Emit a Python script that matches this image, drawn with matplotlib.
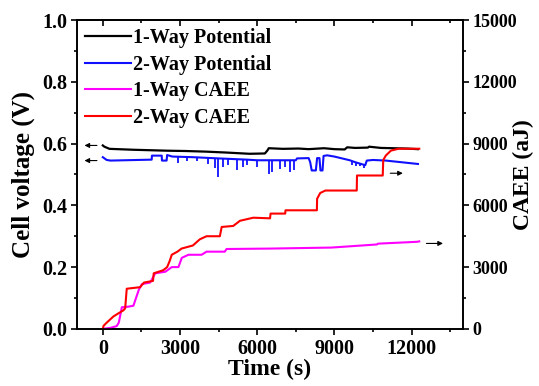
import numpy as np
import matplotlib.pyplot as plt
from matplotlib.ticker import MultipleLocator

plt.rcParams['font.family'] = ['Liberation Serif', 'DejaVu Serif']
plt.rcParams['font.weight'] = 'bold'

# 1-Way potential (V)
t_p1 = [0, 60, 260, 1200, 2500, 3200, 4000, 4800, 5700, 6300, 6400, 6450, 7000, 7600, 8000,
        8600, 9000, 9400, 9500, 9800, 10300, 10350, 10800, 11300, 11800, 12250]
v_p1 = [0.594, 0.590, 0.583, 0.580, 0.577, 0.576, 0.574, 0.571, 0.567, 0.568, 0.578, 0.585, 0.583,
        0.584, 0.582, 0.585, 0.582, 0.581, 0.588, 0.586, 0.587, 0.590, 0.586, 0.585, 0.584, 0.582]

# 2-Way potential (V)
t_p2 = [0, 150, 300, 1900, 1910, 2290, 2300, 2480, 2500, 2700, 3500, 4500, 5600, 6000, 7500,
        7550, 8000, 8060, 8120, 8280, 8330, 8420, 8460, 8540, 8580, 8720, 9000, 9600, 9800,
        10000, 10200, 10260, 10500, 11000, 12250]
v_p2 = [0.556, 0.547, 0.545, 0.548, 0.561, 0.561, 0.545, 0.545, 0.563, 0.558, 0.556, 0.552,
        0.548, 0.546, 0.546, 0.552, 0.553, 0.540, 0.513, 0.513, 0.553, 0.553, 0.513, 0.513,
        0.560, 0.562, 0.558, 0.546, 0.540, 0.535, 0.530, 0.545, 0.547, 0.545, 0.534]

# downward spikes on the 2-Way potential
spike_t = [2935, 3260, 3650, 4104, 4364, 4494, 4688, 4883, 5208, 5468, 5597,
           5987, 6441, 6571, 6896, 7091, 7286, 7416, 9700, 9850, 10000, 10150]
spike_lo = [0.538, 0.545, 0.545, 0.535, 0.520, 0.491, 0.525, 0.530, 0.513, 0.525, 0.530,
            0.524, 0.502, 0.508, 0.518, 0.524, 0.508, 0.513, 0.532, 0.528, 0.526, 0.522]
spike_hi = [0.556, 0.556, 0.556, 0.553, 0.552, 0.552, 0.551, 0.551, 0.549, 0.548, 0.548,
            0.546, 0.546, 0.546, 0.546, 0.546, 0.546, 0.546, 0.545, 0.542, 0.536, 0.532]

# 1-Way CAEE (aJ)
t_c1 = [0, 300, 540, 620, 670, 740, 1000, 1190, 1250, 1400, 1520, 1840, 2040, 2430, 2680,
        2940, 3070, 3330, 3840, 4030, 4740, 4810, 6500, 8900, 10650, 10700, 12220, 12300]
c_c1 = [0, 50, 135, 300, 600, 1050, 1080, 1125, 1350, 1900, 2175, 2250, 2700, 2775, 3000,
        3000, 3450, 3600, 3600, 3750, 3750, 3880, 3900, 3950, 4100, 4140, 4230, 4250]

# 2-Way CAEE (aJ)
t_c2 = [0, 30, 150, 410, 600, 800, 870, 930, 1450, 1600, 1950, 1980, 2350, 2500, 2600, 2680,
        2900, 3060, 3500, 3770, 4030, 4550, 4620, 5070, 5330, 5850, 6500, 6520, 7090, 7100,
        8320, 8330, 8450, 8650, 9870, 9880, 10880, 10900, 11000, 11200, 11500, 12300]
c_c2 = [0, 150, 300, 600, 750, 900, 1000, 1950, 2025, 2250, 2330, 2700, 2850, 3000, 3300,
        3600, 3750, 3900, 4050, 4350, 4500, 4500, 4950, 5000, 5250, 5400, 5370, 5600, 5600,
        5760, 5760, 6320, 6600, 6720, 6720, 7450, 7450, 8200, 8420, 8660, 8750, 8750]

fig = plt.figure(figsize=(5.39, 3.86), dpi=100)
ax = fig.add_axes([0.143, 0.148, 0.716, 0.800])
ax2 = ax.twinx()

l1, = ax.plot(t_p1, v_p1, color='black', lw=1.6, label='1-Way Potential')
l2, = ax.plot(t_p2, v_p2, color='#1010ff', lw=1.5, label='2-Way Potential')
ax.vlines(spike_t, spike_lo, spike_hi, color='#1010ff', lw=1.3)
l3, = ax2.plot(t_c1, c_c1, color='#ff00ff', lw=1.5, label='1-Way CAEE')
l4, = ax2.plot(t_c2, c_c2, color='#ff0000', lw=1.5, label='2-Way CAEE')

ax.set_xlim(-1000, 14000)
ax.set_ylim(0, 1.0)
ax2.set_ylim(0, 15000)
ax.set_xticks([0, 3000, 6000, 9000, 12000])
ax.xaxis.set_minor_locator(MultipleLocator(1500))
ax.yaxis.set_major_locator(MultipleLocator(0.2))
ax.yaxis.set_minor_locator(MultipleLocator(0.1))
ax.yaxis.set_major_formatter(plt.FormatStrFormatter('%.1f'))
ax2.yaxis.set_major_locator(MultipleLocator(3000))
ax2.yaxis.set_minor_locator(MultipleLocator(1500))

ax.tick_params(which='both', direction='out', labelsize=14.5, width=1.2, pad=2.5)
ax.tick_params(which='major', length=4.5)
ax.tick_params(which='minor', length=2.5)
ax2.tick_params(which='both', direction='out', labelsize=13, width=1.2, pad=2)
ax2.tick_params(which='major', length=4.5)
ax2.tick_params(which='minor', length=2.5)

top = ax.secondary_xaxis('top')
top.set_xticks([0, 3000, 6000, 9000, 12000])
top.xaxis.set_minor_locator(MultipleLocator(1500))
top.tick_params(which='both', direction='in', labeltop=False, width=1.2)
top.tick_params(which='major', length=4.5)
top.tick_params(which='minor', length=2.5)

for a in (ax, ax2, top):
    for s in a.spines.values():
        s.set_linewidth(1.2)

ax.set_xlabel('Time (s)', fontsize=17, fontweight='bold', labelpad=0)
ax.set_ylabel('Cell voltage (V)', fontsize=18, fontweight='bold')
ax.yaxis.set_label_coords(-0.109, 0.5)
ax2.set_ylabel('CAEE (aJ)', fontsize=17, fontweight='bold', rotation=90)
ax2.yaxis.set_label_coords(1.13, 0.5)

# arrows pointing to the axis each curve belongs to
arr = dict(arrowstyle='-|>', color='black', lw=0.8, mutation_scale=7)
left_arrow_y = [0.594, 0.545]
for y in left_arrow_y:
    ax.annotate('', xy=(-820, y), xytext=(-120, y), arrowprops=arr)
right_arrows = [(11065, 11770, 7560), (12470, 13330, 4150)]
for x0, x1, y in right_arrows:
    ax2.annotate('', xy=(x1, y), xytext=(x0, y), arrowprops=arr)

ax2.legend(handles=[l1, l2, l3, l4], loc='upper left', frameon=False, fontsize=14.5,
           handlelength=2.3, handletextpad=0.1, labelspacing=0.33,
           borderaxespad=0.2, borderpad=0.2)

fig.savefig('out.png', dpi=100)
